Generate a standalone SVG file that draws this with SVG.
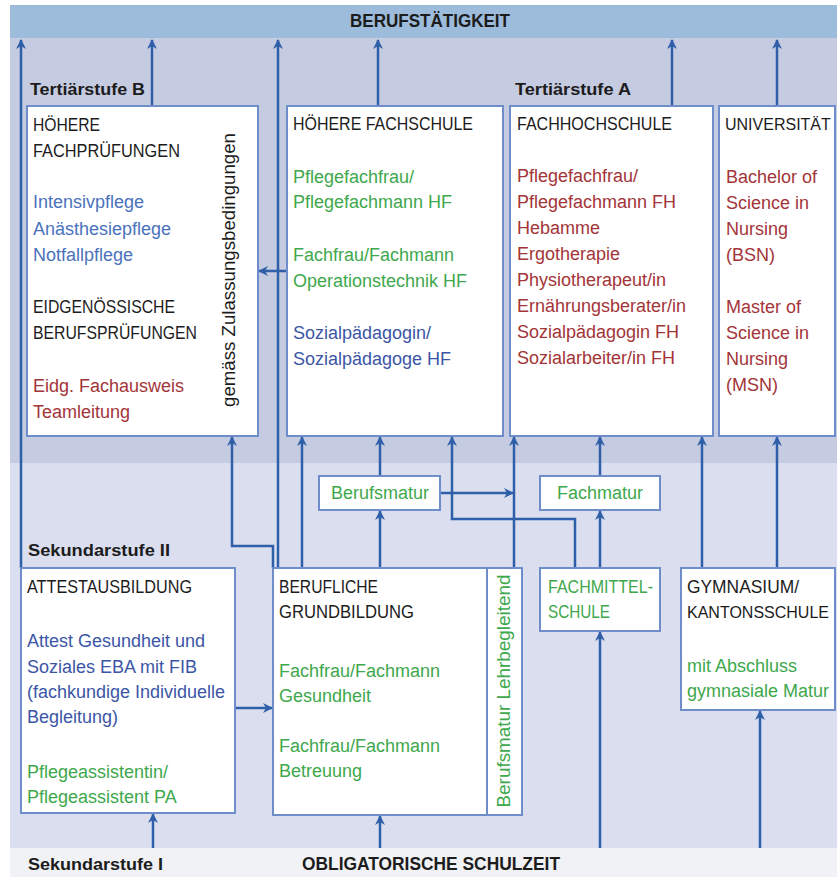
<svg xmlns="http://www.w3.org/2000/svg" width="837" height="877" viewBox="0 0 837 877">
<defs>
<style>
text{font-family:"Liberation Sans",Arial,sans-serif;font-size:18px;}
.hd{fill:#1c1c1c;}
.bl{fill:#4a72bd;}
.db{fill:#3b56a6;}
.gr{fill:#3ea84c;}
.rd{fill:#a33539;}
.lab{font-weight:bold;fill:#1c1c1c;font-size:17px;}
.box{fill:#ffffff;stroke:#6f8ccb;stroke-width:2;}
.con{fill:none;stroke:#2e5fa8;stroke-width:2.5;}
</style>
<marker id="ah" viewBox="0 0 10 10" refX="9" refY="5" markerWidth="4" markerHeight="4" orient="auto" markerUnits="strokeWidth">
<path d="M0,0 L10,5 L0,10 L3,5 z" fill="#2e5fa8"/>
</marker>
</defs>
<g id="background">
<rect x="0" y="0" width="837" height="877" fill="#ffffff"/>
<rect x="10" y="5" width="827" height="33" fill="#9dbbda"/>
<rect x="10" y="38" width="827" height="425" fill="#c5cbe1"/>
<rect x="10" y="463" width="827" height="385" fill="#dadeef"/>
<rect x="10" y="848" width="827" height="29" fill="#f1f2f5"/>
<text x="430" y="27" text-anchor="middle" class="lab" style="font-size:19px" textLength="160" lengthAdjust="spacingAndGlyphs">BERUFSTÄTIGKEIT</text>
<text x="30" y="95" class="lab" textLength="115" lengthAdjust="spacingAndGlyphs">Tertiärstufe B</text>
<text x="515" y="95" class="lab" textLength="116" lengthAdjust="spacingAndGlyphs">Tertiärstufe A</text>
<text x="28" y="556" class="lab" textLength="142" lengthAdjust="spacingAndGlyphs">Sekundarstufe II</text>
<text x="28" y="870" class="lab" textLength="135" lengthAdjust="spacingAndGlyphs">Sekundarstufe I</text>
<text x="302" y="870" class="lab" style="font-size:19px" textLength="258" lengthAdjust="spacingAndGlyphs">OBLIGATORISCHE SCHULZEIT</text>
</g>
<g id="connectors">
<path class="con" marker-end="url(#ah)" d="M21,568 V40"/>
<path class="con" marker-end="url(#ah)" d="M152,106 V40"/>
<path class="con" marker-end="url(#ah)" d="M278,568 V40"/>
<path class="con" marker-end="url(#ah)" d="M378,106 V40"/>
<path class="con" marker-end="url(#ah)" d="M672,106 V40"/>
<path class="con" marker-end="url(#ah)" d="M777,106 V40"/>
<path class="con" marker-end="url(#ah)" d="M287,271 H259"/>
<path class="con" marker-end="url(#ah)" d="M273,568 V546 H232 V437"/>
<path class="con" marker-end="url(#ah)" d="M302,568 V437"/>
<path class="con" marker-end="url(#ah)" d="M380,568 V511"/>
<path class="con" marker-end="url(#ah)" d="M380,476 V437"/>
<path class="con" marker-end="url(#ah)" d="M441,493 H513"/>
<path class="con" marker-end="url(#ah)" d="M514,568 V437"/>
<path class="con" marker-end="url(#ah)" d="M575,568 V519 H452 V437"/>
<path class="con" marker-end="url(#ah)" d="M600,476 V437"/>
<path class="con" marker-end="url(#ah)" d="M600,568 V511"/>
<path class="con" marker-end="url(#ah)" d="M702,568 V437"/>
<path class="con" marker-end="url(#ah)" d="M777,568 V437"/>
<path class="con" marker-end="url(#ah)" d="M235,708 H272"/>
<path class="con" marker-end="url(#ah)" d="M153,848 V814"/>
<path class="con" marker-end="url(#ah)" d="M380,848 V816"/>
<path class="con" marker-end="url(#ah)" d="M600,848 V632"/>
<path class="con" marker-end="url(#ah)" d="M760,848 V711"/>
</g>
<g id="hoehere-fachpruefungen">
<rect class="box" x="27" y="106" width="231" height="330"/>
<text class="hd" x="33" y="131" textLength="67" lengthAdjust="spacingAndGlyphs">HÖHERE</text>
<text class="hd" x="33" y="157" textLength="147" lengthAdjust="spacingAndGlyphs">FACHPRÜFUNGEN</text>
<text class="bl"><tspan x="33" y="208">Intensivpflege</tspan><tspan x="33" y="235">Anästhesiepflege</tspan><tspan x="33" y="261">Notfallpflege</tspan></text>
<text class="hd" x="33" y="313" textLength="142" lengthAdjust="spacingAndGlyphs">EIDGENÖSSISCHE</text>
<text class="hd" x="33" y="339" textLength="164" lengthAdjust="spacingAndGlyphs">BERUFSPRÜFUNGEN</text>
<text class="rd"><tspan x="33" y="392">Eidg. Fachausweis</tspan><tspan x="33" y="418">Teamleitung</tspan></text>
<text class="hd" transform="translate(235,270) rotate(-90)" x="0" y="0" text-anchor="middle" textLength="274" lengthAdjust="spacingAndGlyphs">gemäss Zulassungsbedingungen</text>
</g>
<g id="hoehere-fachschule">
<rect class="box" x="287" y="106" width="216" height="330"/>
<text class="hd" x="293" y="130" textLength="180" lengthAdjust="spacingAndGlyphs">HÖHERE FACHSCHULE</text>
<text class="gr"><tspan x="293" y="183">Pflegefachfrau/</tspan><tspan x="293" y="208">Pflegefachmann HF</tspan><tspan x="293" y="261">Fachfrau/Fachmann</tspan><tspan x="293" y="287">Operationstechnik HF</tspan></text>
<text class="db"><tspan x="293" y="339">Sozialpädagogin/</tspan><tspan x="293" y="365">Sozialpädagoge HF</tspan></text>
</g>
<g id="fachhochschule">
<rect class="box" x="510" y="106" width="203" height="330"/>
<text class="hd" x="517" y="130" textLength="155" lengthAdjust="spacingAndGlyphs">FACHHOCHSCHULE</text>
<text class="rd"><tspan x="517" y="182">Pflegefachfrau/</tspan><tspan x="517" y="208">Pflegefachmann FH</tspan><tspan x="517" y="234">Hebamme</tspan><tspan x="517" y="260">Ergotherapie</tspan><tspan x="517" y="286">Physiotherapeut/in</tspan><tspan x="517" y="312">Ernährungsberater/in</tspan><tspan x="517" y="338">Sozialpädagogin FH</tspan><tspan x="517" y="364">Sozialarbeiter/in FH</tspan></text>
</g>
<g id="universitaet">
<rect class="box" x="719" y="106" width="116" height="330"/>
<text class="hd" x="725" y="130" style="font-size:16px">UNIVERSITÄT</text>
<text class="rd"><tspan x="726" y="183">Bachelor of</tspan><tspan x="726" y="209">Science in</tspan><tspan x="726" y="235">Nursing</tspan><tspan x="726" y="261">(BSN)</tspan><tspan x="726" y="313">Master of</tspan><tspan x="726" y="339">Science in</tspan><tspan x="726" y="365">Nursing</tspan><tspan x="726" y="391">(MSN)</tspan></text>
</g>
<g id="berufsmatur">
<rect class="box" x="319" y="476" width="121" height="34"/>
<text class="gr" x="380" y="499" text-anchor="middle">Berufsmatur</text>
</g>
<g id="fachmatur">
<rect class="box" x="540" y="476" width="120" height="34"/>
<text class="gr" x="600" y="499" text-anchor="middle">Fachmatur</text>
</g>
<g id="attestausbildung">
<rect class="box" x="21" y="568" width="214" height="245"/>
<text class="hd" x="27" y="593" textLength="165" lengthAdjust="spacingAndGlyphs">ATTESTAUSBILDUNG</text>
<text class="db"><tspan x="27" y="647">Attest Gesundheit und</tspan><tspan x="27" y="673">Soziales EBA mit FIB</tspan><tspan x="27" y="698">(fachkundige Individuelle</tspan><tspan x="27" y="723">Begleitung)</tspan></text>
<text class="gr"><tspan x="27" y="778">Pflegeassistentin/</tspan><tspan x="27" y="803">Pflegeassistent PA</tspan></text>
</g>
<g id="berufliche-grundbildung">
<rect class="box" x="273" y="568" width="214" height="247"/>
<text class="hd" x="279" y="593" textLength="99" lengthAdjust="spacingAndGlyphs">BERUFLICHE</text>
<text class="hd" x="279" y="618" textLength="135" lengthAdjust="spacingAndGlyphs">GRUNDBILDUNG</text>
<text class="gr"><tspan x="279" y="677">Fachfrau/Fachmann</tspan><tspan x="279" y="702">Gesundheit</tspan><tspan x="279" y="752">Fachfrau/Fachmann</tspan><tspan x="279" y="777">Betreuung</tspan></text>
</g>
<g id="berufsmatur-lehrbegleitend">
<rect class="box" x="487" y="568" width="35" height="247"/>
<text class="gr" transform="translate(510,691) rotate(-90)" x="0" y="0" text-anchor="middle" textLength="233" lengthAdjust="spacingAndGlyphs">Berufsmatur Lehrbegleitend</text>
</g>
<g id="fachmittelschule">
<rect class="box" x="540" y="568" width="120" height="63"/>
<text class="gr" x="548" y="593" textLength="105" lengthAdjust="spacingAndGlyphs">FACHMITTEL-</text>
<text class="gr" x="548" y="618" textLength="62" lengthAdjust="spacingAndGlyphs">SCHULE</text>
</g>
<g id="gymnasium">
<rect class="box" x="681" y="568" width="154" height="142"/>
<text class="hd" x="687" y="593" textLength="112" lengthAdjust="spacingAndGlyphs">GYMNASIUM/</text>
<text class="hd" x="687" y="618" style="font-size:16px">KANTONSSCHULE</text>
<text class="gr"><tspan x="687" y="672">mit Abschluss</tspan><tspan x="687" y="697">gymnasiale Matur</tspan></text>
</g>
</svg>
